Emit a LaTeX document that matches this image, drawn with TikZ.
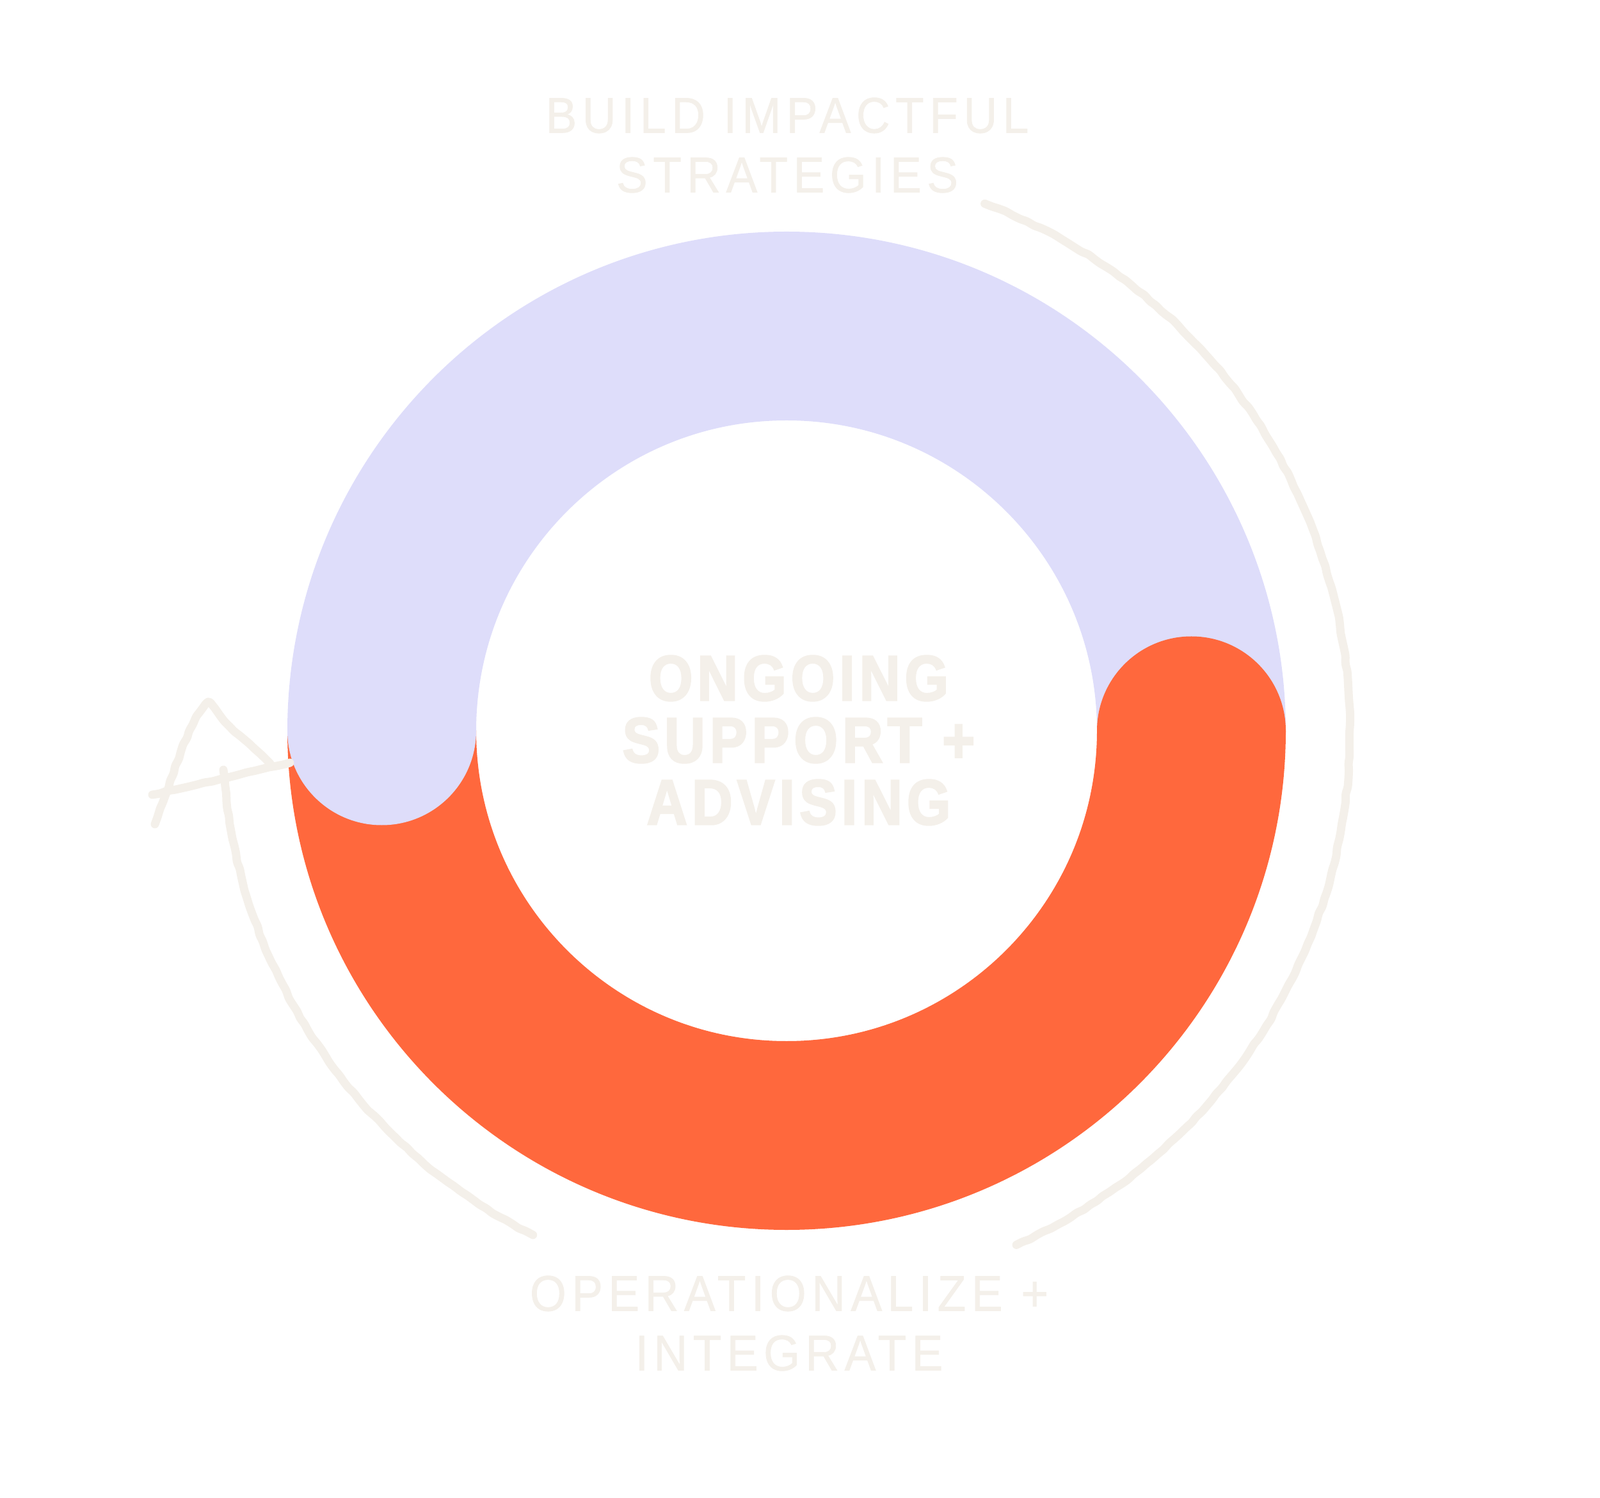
\documentclass[tikz,border=0pt]{standalone}
\usepackage{fontspec}
\setmainfont{Liberation Sans}
\usepackage{tikz}
\usetikzlibrary{calc,decorations.pathmorphing}
\definecolor{ringlav}{RGB}{222,221,250}
\definecolor{ringcoral}{RGB}{255,104,61}
\definecolor{chalk}{RGB}{244,240,234}
\newfontfamily\phasefont[LetterSpace=11,FakeStretch=0.93,FakeBold=1]{Liberation Sans}
\newfontfamily\hubfont[LetterSpace=7,FakeStretch=0.88,FakeBold=2.5]{Liberation Sans}

\begin{document}
\begin{tikzpicture}[
    phase/.style={text=chalk, align=center, font=\phasefont\fontsize{22.3}{26.5}\selectfont},
    hubtext/.style={text=chalk, align=center, font=\hubfont\bfseries\fontsize{28.5}{27.6}\selectfont},
    sketch/.style={draw=chalk, line width=1.3mm, line cap=round, line join=round, rounded corners=0.3mm,
        decorate, decoration={random steps, segment length=1.2mm, amplitude=0.12mm}}
]
\useasboundingbox (0,0) rectangle (25,23.4);
\coordinate (c) at (12.29,11.98);

% ring halves, then the round ends
\foreach \col/\s/\e in {ringlav/180/0, ringcoral/180/360}
    \draw[\col, line width=2.95cm] ($(c)+(180:6.325)$) arc[start angle=\s, end angle=\e, radius=6.325];
\foreach \col/\a in {ringlav/180, ringcoral/0}
    \fill[\col] ($(c)+(\a:6.325)$) circle[radius=1.475];

\node[phase] (build) at (12.30,21.13) {BUILD IMPACTFUL\\STRATEGIES};
\node[hubtext] (hub) at (12.48,11.83) {ONGOING\\SUPPORT +\\ADVISING};
\node[phase] (operate) at (12.33,2.72) {OPERATIONALIZE +\\INTEGRATE};

% hand drawn sweeps
\draw[sketch] ($(c)+(69.4:8.8)$) arc[start angle=69.4, end angle=-65.9, radius=8.8];
\draw[sketch] ($(c)+(243.3:8.82)$) arc[start angle=243.3, end angle=184, radius=8.82];

% arrow head
\draw[sketch] (2.42,10.52) .. controls (2.75,11.4) and (2.95,12.15) .. (3.26,12.43)
    -- (3.63,12.0) -- (3.87,11.8) -- (4.22,11.47);
\draw[sketch] (2.38,10.98) -- (3.47,11.23) -- (4.53,11.48);

\end{tikzpicture}
\end{document}
